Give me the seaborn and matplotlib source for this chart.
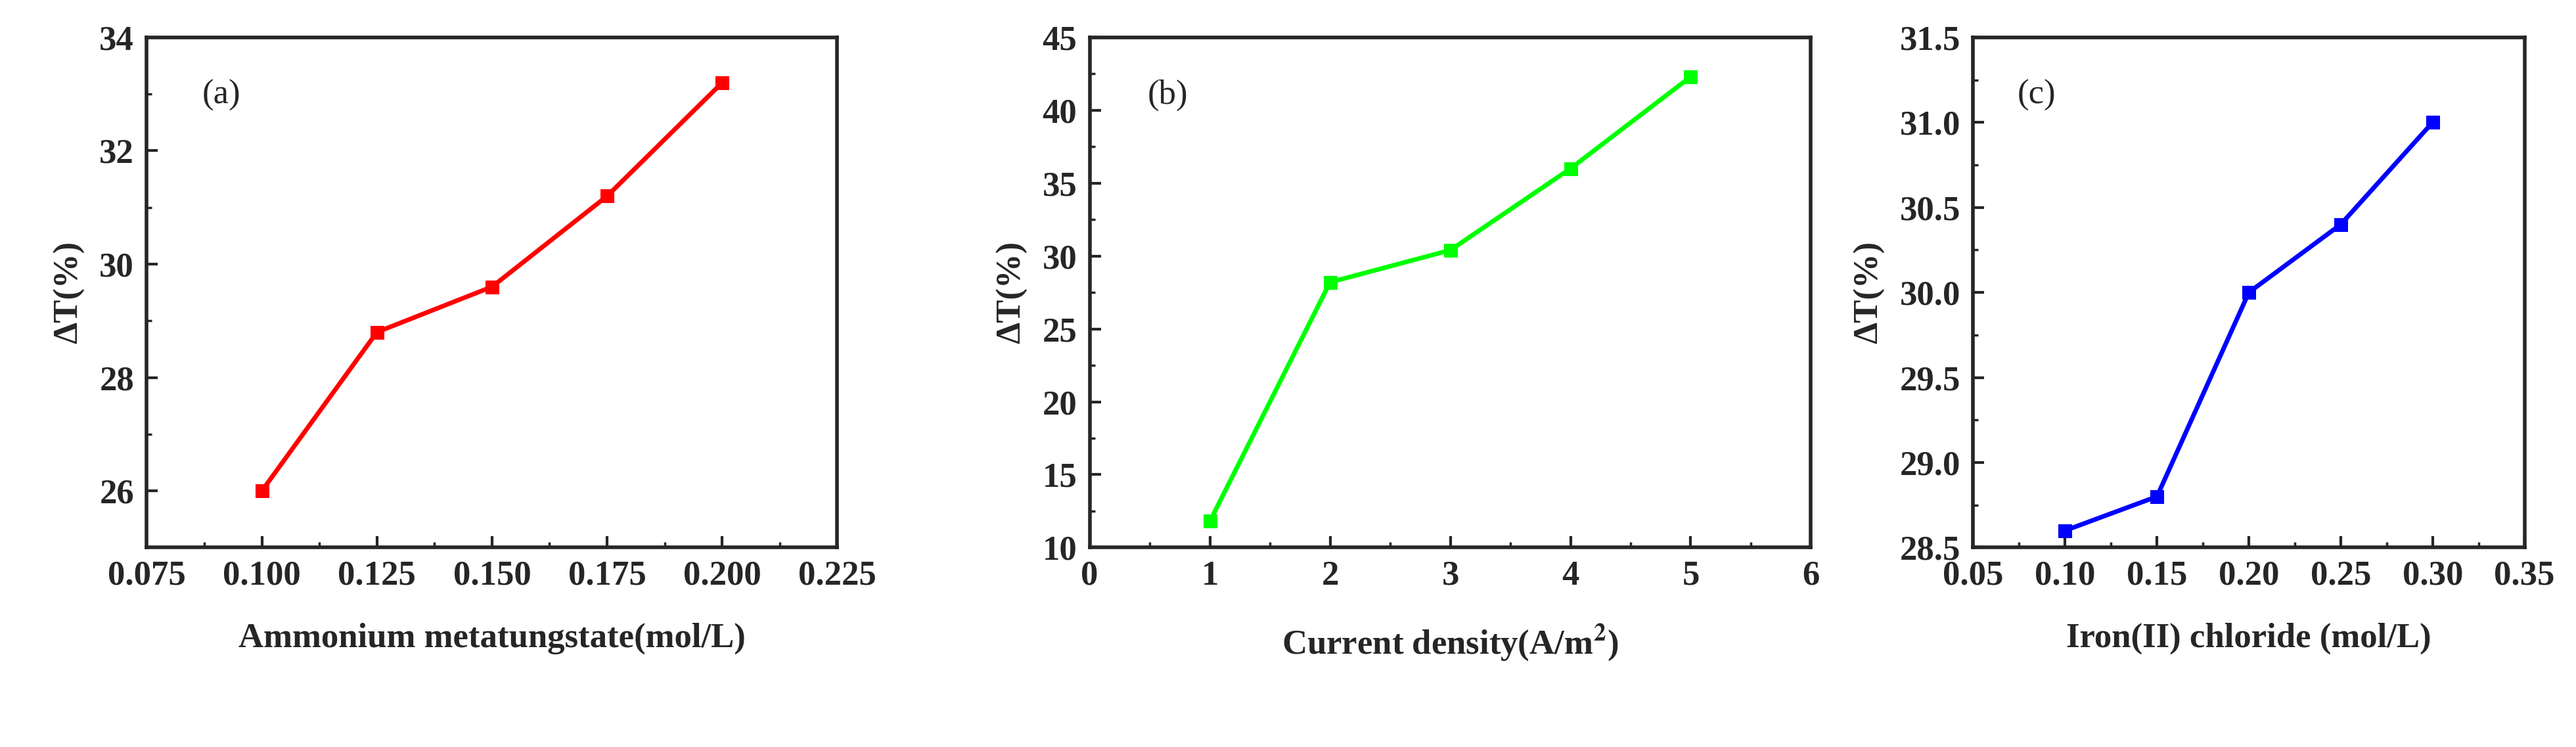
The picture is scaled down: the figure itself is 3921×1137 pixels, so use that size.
import matplotlib
matplotlib.use("Agg")
import matplotlib.pyplot as plt
import seaborn as sns
import pandas as pd

sns.set_style("ticks")
plt.rcParams["font.family"] = ["Liberation Serif", "DejaVu Serif"]
plt.rcParams["font.weight"] = "bold"
plt.rcParams["mathtext.fontset"] = "stix"

amt_x = [0.100, 0.125, 0.150, 0.175, 0.200]
amt_y = [26.0, 28.8, 29.6, 31.2, 33.2]
cd_x = [1, 2, 3, 4, 5]
cd_y = [11.8, 28.2, 30.4, 36.0, 42.3]
fe_x = [0.10, 0.15, 0.20, 0.25, 0.30]
fe_y = [28.6, 28.8, 30.0, 30.4, 31.0]

panels = [
    (amt_x, amt_y, "#ff0000", "(a)", "Ammonium metatungstate(mol/L)",
     (0.075, 0.225), [0.075, 0.100, 0.125, 0.150, 0.175, 0.200, 0.225], "{:.3f}",
     (25, 34), [26, 28, 30, 32, 34], "{:.0f}",
     [0.0875 + 0.025 * i for i in range(6)], [27, 29, 31, 33]),
    (cd_x, cd_y, "#00ff00", "(b)", "Current density(A/m$^{\\mathbf{2}}$)",
     (0, 6), [0, 1, 2, 3, 4, 5, 6], "{:.0f}",
     (10, 45), [10, 15, 20, 25, 30, 35, 40, 45], "{:.0f}",
     [0.5 + i for i in range(6)], [12.5 + 5 * i for i in range(7)]),
    (fe_x, fe_y, "#0000ff", "(c)", "Iron(II) chloride (mol/L)",
     (0.05, 0.35), [0.05, 0.10, 0.15, 0.20, 0.25, 0.30, 0.35], "{:.2f}",
     (28.5, 31.5), [28.5, 29.0, 29.5, 30.0, 30.5, 31.0, 31.5], "{:.1f}",
     [0.075 + 0.05 * i for i in range(6)], [28.75 + 0.5 * i for i in range(6)]),
]
lefts = [(0.057, 0.268), (0.423, 0.28), (0.766, 0.214)]

fig = plt.figure(figsize=(39.21, 11.37), dpi=100)
for (x, y, col, lab, xl, xlim, xt, xf, ylim, yt, yf, xmin, ymin), (l, w) in zip(panels, lefts):
    ax = fig.add_axes([l, 0.267, w, 0.683])
    df = pd.DataFrame({"x": x, "y": y})
    sns.lineplot(data=df, x="x", y="y", color=col, marker="s", markersize=14,
                 markeredgecolor=col, linewidth=5, ax=ax)
    ax.set_xlim(*xlim)
    ax.set_ylim(*ylim)
    ax.set_xticks(xt)
    ax.set_xticklabels([xf.format(v) for v in xt])
    ax.set_yticks(yt)
    ax.set_yticklabels([yf.format(v) for v in yt])
    ax.set_xticks(xmin, minor=True)
    ax.set_yticks(ymin, minor=True)
    ax.tick_params(axis="both", which="major", direction="in", length=12, width=3,
                   labelsize=38, pad=14)
    ax.tick_params(axis="both", which="minor", direction="in", length=6, width=2.5)
    for s in ax.spines.values():
        s.set_linewidth(4)
    ax.set_xlabel(xl, fontsize=38, fontweight="bold", labelpad=34)
    ax.set_ylabel("ΔT(%)", fontsize=38, fontweight="bold", labelpad=16)
    ax.text(0.08, 0.87, lab, transform=ax.transAxes, fontsize=38, fontweight="normal")

fig.savefig("out.png", dpi=100)
